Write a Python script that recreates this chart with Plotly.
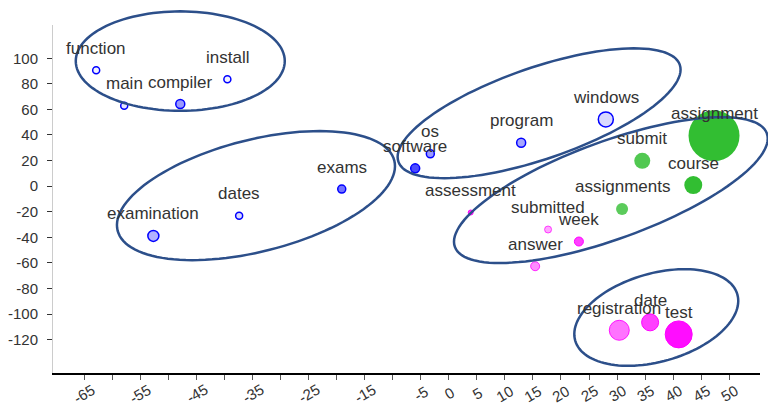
import math
import plotly.graph_objects as go

# ---------------- data ----------------
words = ["function", "main", "compiler", "install",
         "examination", "dates", "exams",
         "software", "os", "program", "windows",
         "assessment", "submitted", "week", "answer",
         "registration", "date", "test",
         "assignments", "submit", "course", "assignment"]
x_vals = [-62.9, -57.9, -47.9, -39.5,
          -52.7, -37.4, -19.1,
          -6.0, -3.3, 12.9, 28.0,
          3.9, 17.7, 23.2, 15.4,
          30.4, 35.9, 41.0,
          30.9, 34.5, 43.6, 47.3]
y_vals = [90.6, 62.9, 64.2, 83.5,
          -38.9, -23.2, -2.3,
          13.9, 25.3, 33.9, 52.2,
          -20.6, -33.9, -43.3, -62.6,
          -112.7, -106.5, -115.9,
          -17.8, 19.8, 0.8, 39.4]
freq = [7, 7, 9, 7,
        11, 7, 8,
        9, 8, 9, 15,
        5, 7, 9, 9,
        20, 17, 27,
        12, 16, 18, 51]
weight = [0.05, 0.1, 0.4, 0.05,
          0.3, 0.15, 0.55,
          0.7, 0.4, 0.35, 0.15,
          0.8, 0.35, 0.75, 0.45,
          0.55, 0.75, 0.95,
          0.8, 0.85, 1.0, 1.0]
group = ["blue"] * 11 + ["magenta"] * 7 + ["green"] * 4

x_ticks = list(range(-65, 51, 5))
x_tick_text = [str(v) if (v >= 0 or v % 10 != 0) else "" for v in x_ticks]
y_ticks = list(range(-120, 101, 20))
y_tick_text = [str(v) for v in y_ticks]

# cluster ellipses: centre (data units), semi-axes (px), tilt (deg)
ell_cx = [-47.9, -34.4, 16.1, 28.9, 37.0]
ell_cy = [97.8, -7.4, 57.0, -3.1, -102.7]
ell_a = [104.5, 142.7, 148.8, 166.0, 84.3]
ell_b = [49.7, 55.9, 45.7, 48.7, 44.1]
ell_rot = [0.0, 14.2, 19.0, 20.0, 15.9]

# ---------------- layout geometry ----------------
W, H = 768, 408
ML, MR, MT, MB = 53, 8, 25, 35
XR = [-70.6, 55.5]
YR = [-146.1, 126.0]
pw, ph = W - ML - MR, H - MT - MB

base = {"blue": (0, 0, 255), "magenta": (255, 0, 255), "green": (50, 190, 50)}

fig = go.Figure()
for g in ["blue", "magenta", "green"]:
    idx = [i for i, gg in enumerate(group) if gg == g]
    r, gg_, b = base[g]
    fills = [f"rgba({r},{gg_},{b},{weight[i]})" for i in idx]
    if g == "blue":
        lines = ["rgb(0,0,255)"] * len(idx)
        lw = 1.5
    elif g == "magenta":
        lines = [f"rgba(255,0,255,{min(1, weight[i] + 0.35)})" for i in idx]
        lw = 1
    else:
        lines = [f"rgba(50,190,50,{weight[i]})" for i in idx]
        lw = 0
    fig.add_trace(go.Scatter(
        x=[x_vals[i] for i in idx], y=[y_vals[i] for i in idx],
        mode="markers",
        marker=dict(size=[freq[i] for i in idx], color=fills, opacity=1,
                    line=dict(color=lines, width=lw)),
        hovertext=[words[i] for i in idx], hoverinfo="text",
        showlegend=False, cliponaxis=False,
    ))

# word labels
for w, xv, yv in zip(words, x_vals, y_vals):
    fig.add_annotation(x=xv, y=yv, text=w, showarrow=False, yshift=22,
                       xanchor="center", yanchor="middle",
                       font=dict(family="Liberation Sans, Arial", size=17, color="#333"))

# rotated x tick labels
for v, t in zip(x_ticks, x_tick_text):
    if t:
        fig.add_annotation(x=v, xref="x", y=0, yref="paper", text=t, showarrow=False,
                           textangle=-30, yshift=-20, xanchor="center", yanchor="middle",
                           font=dict(family="Liberation Sans, Arial", size=15, color="#333"))

# ellipses (paper coordinates via the axis scales)
kx = pw / (XR[1] - XR[0])
ky = ph / (YR[1] - YR[0])
for cx, cy, a, b, rot in zip(ell_cx, ell_cy, ell_a, ell_b, ell_rot):
    th = math.radians(rot)
    pts = []
    n = 120
    for k in range(n):
        t = 2 * math.pi * k / n
        dxp = a * math.cos(t) * math.cos(th) - b * math.sin(t) * math.sin(th)
        dyp = a * math.cos(t) * math.sin(th) + b * math.sin(t) * math.cos(th)
        xd = cx + dxp / kx
        yd = cy + dyp / ky
        px = (xd - XR[0]) / (XR[1] - XR[0])
        py = (yd - YR[0]) / (YR[1] - YR[0])
        pts.append((px, py))
    path = "M " + " L ".join(f"{p[0]:.5f},{p[1]:.5f}" for p in pts) + " Z"
    fig.add_shape(type="path", path=path, xref="paper", yref="paper",
                  line=dict(color="#2c4f8a", width=2.5), fillcolor="rgba(0,0,0,0)")

fig.update_layout(
    width=W, height=H,
    margin=dict(l=ML, r=MR, t=MT, b=MB),
    paper_bgcolor="white", plot_bgcolor="white",
    font=dict(family="Liberation Sans, Arial", size=15, color="#333"),
    xaxis=dict(range=XR, showgrid=False, zeroline=False, showline=True,
               linecolor="#000", linewidth=1.5, ticks="outside", ticklen=5,
               tickcolor="#555", tickvals=x_ticks, showticklabels=False,
               fixedrange=True),
    yaxis=dict(range=YR, showgrid=False, zeroline=False, showline=True,
               linecolor="#ccc", linewidth=1, ticks="outside", ticklen=5,
               tickcolor="#333", tickvals=y_ticks, ticktext=y_tick_text,
               ticklabelstandoff=6, tickfont=dict(size=15, color="#333"),
               fixedrange=True),
)

fig.write_html("out.html", config={"displayModeBar": False},
               post_script="document.body.style.margin='0';document.body.style.overflow='hidden';")
